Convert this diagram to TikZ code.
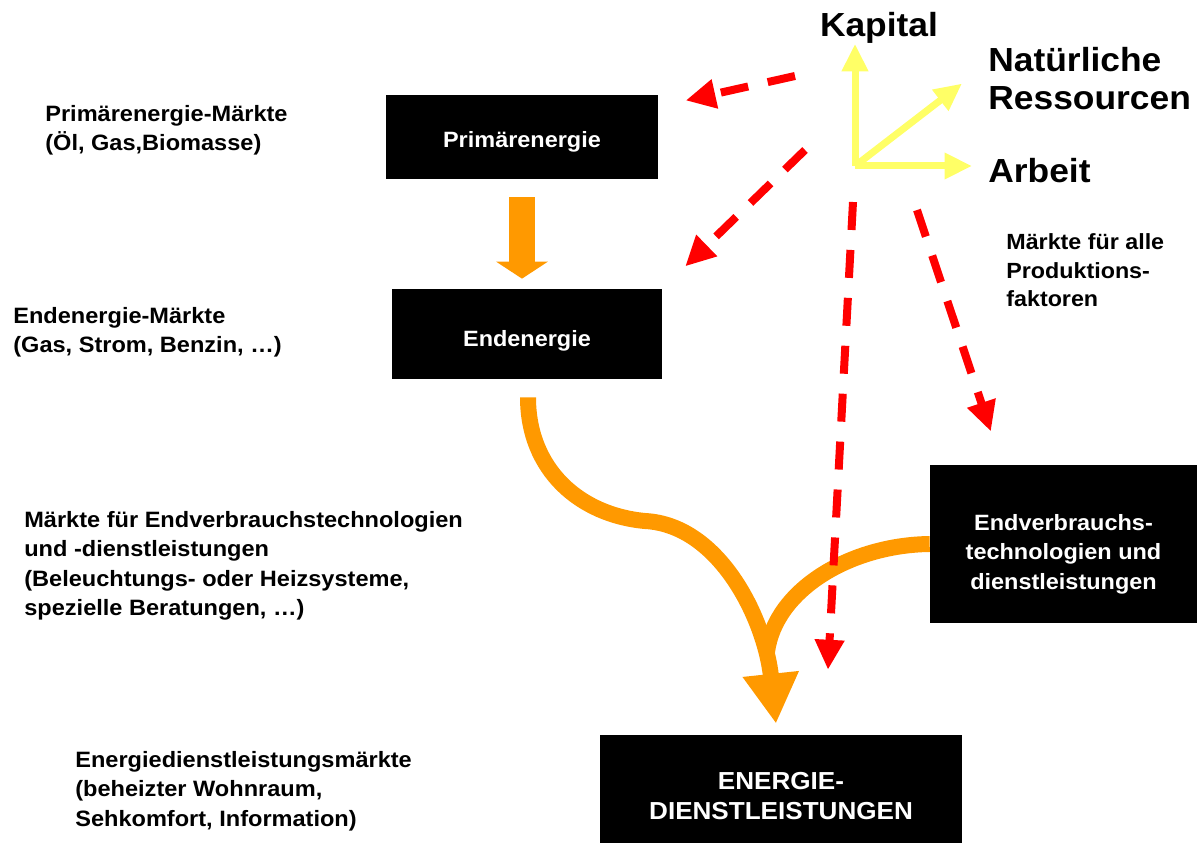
\documentclass[tikz,border=0pt]{standalone}
\usepackage{fontspec}
\setmainfont[FakeStretch=1.06]{Liberation Sans}
\usetikzlibrary{arrows.meta,calc}
\definecolor{eorange}{HTML}{FF9900}
\definecolor{ered}{HTML}{FF0000}
\definecolor{eyellow}{HTML}{FFFF66}

\begin{document}
\begin{tikzpicture}[x=0.02cm, y=-0.02cm, >=Stealth,
   box/.style={fill=black, text=white, align=center, inner sep=0pt, font=\bfseries\fontsize{12.6}{16.7}\selectfont},
   lbl/.style={anchor=north west, align=left, inner sep=0pt, font=\bfseries\fontsize{12.65}{16.7}\selectfont},
   big/.style={anchor=north west, align=left, inner sep=0pt, font=\bfseries\fontsize{19}{21.6}\selectfont},
   flow/.style={draw=eorange, line width=0.32cm},
   markt/.style={draw=ered, line width=0.16cm, dash pattern=on 0.56cm off 0.4cm, -{Triangle[length=0.6cm,width=0.56cm]}},
   faktor/.style={draw=eyellow, line width=0.14cm, -{Triangle[length=0.55cm,width=0.5cm]}}]
  \useasboundingbox (0,0) rectangle (1197,844);
  % energy chain
  \node[box, minimum width=5.44cm, minimum height=1.68cm] (prim) at (522,137) {\rule{0pt}{14.3pt}Primärenergie};
  \node[box, minimum width=5.4cm, minimum height=1.8cm] (ende) at (527,334) {\rule{0pt}{17.2pt}Endenergie};
  \node[box, minimum width=5.34cm, minimum height=3.16cm] (endv) at (1063.5,544) {\rule{0pt}{20.6pt}Endverbrauchs-\\technologien und\\dienstleistungen};
  \node[box, font=\bfseries\fontsize{14}{17}\selectfont, minimum width=7.24cm, minimum height=2.16cm] (dienst) at (781,789) {\rule{0pt}{18pt}ENERGIE-\\DIENSTLEISTUNGEN};
  % markets
  \node[lbl] (lprim) at (45,105) {Primärenergie-Märkte\\(Öl, Gas,Biomasse)};
  \node[lbl] (lende) at (13,307) {Endenergie-Märkte\\(Gas, Strom, Benzin, …)};
  \node[lbl] (ltech) at (24,511) {Märkte für Endverbrauchstechnologien\\und -dienstleistungen\\(Beleuchtungs- oder Heizsysteme,\\spezielle Beratungen, …)};
  \node[lbl] (ldienst) at (75,751) {Energiedienstleistungsmärkte\\(beheizter Wohnraum,\\Sehkomfort, Information)};
  \node[lbl, font=\bfseries\fontsize{12.5}{16.4}\selectfont] (lfaktor) at (1006,233) {Märkte für alle\\Produktions-\\faktoren};
  % production factors
  \node[big, anchor=north] (kapital) at (879,12) {Kapital};
  \node[big] (natur) at (988,47) {Natürliche\\Ressourcen};
  \node[big] (arbeit) at (988,158) {Arbeit};
  \coordinate (ursprung) at (855,166);
  \draw[faktor] (ursprung) -- (ursprung |- kapital.south);
  \draw[faktor] (ursprung) -- ($(natur.west)+(-26,5)$);
  \draw[faktor, shorten >=0.32cm] (ursprung) -- (ursprung -| arbeit.west);
  % orange flows
  \draw[eorange, line width=0.52cm, -{Triangle[length=0.34cm,width=1.02cm]}, shorten <=0.36cm, shorten >=0.2cm] (prim.south) -- (prim.south |- ende.north);
  \coordinate (zusammen) at (767,652);
  \draw[flow, -{Triangle[length=1cm,width=1.06cm]}] ([shift={(1,18)}]ende.south) .. controls (528,470) and (580,515) .. (645,521)
     .. controls (720,525) and (765,620) .. ([shift={(-5,-11)}]dienst.north);
  \draw[flow] (endv.west) .. controls (850,545) and (775,590) .. (zusammen);
  % red market arrows
  \coordinate (k1) at (795,76);
  \coordinate (k2) at (805,150);
  \coordinate (k3) at (853,202);
  \coordinate (k4) at (917,210);
  \draw[markt, shorten >=0.56cm] (k1) -- (prim);
  \draw[markt, shorten >=0.64cm] (k2) -- (ende.north east);
  \draw[markt, shorten >=1.3cm] (k3) -- ($(dienst.north west)!0.62!(dienst.north east)$);
  \draw[markt, shorten >=0.7cm] (k4) -- ($(endv.north west)!0.27!(endv.north east)$);
\end{tikzpicture}
\end{document}
